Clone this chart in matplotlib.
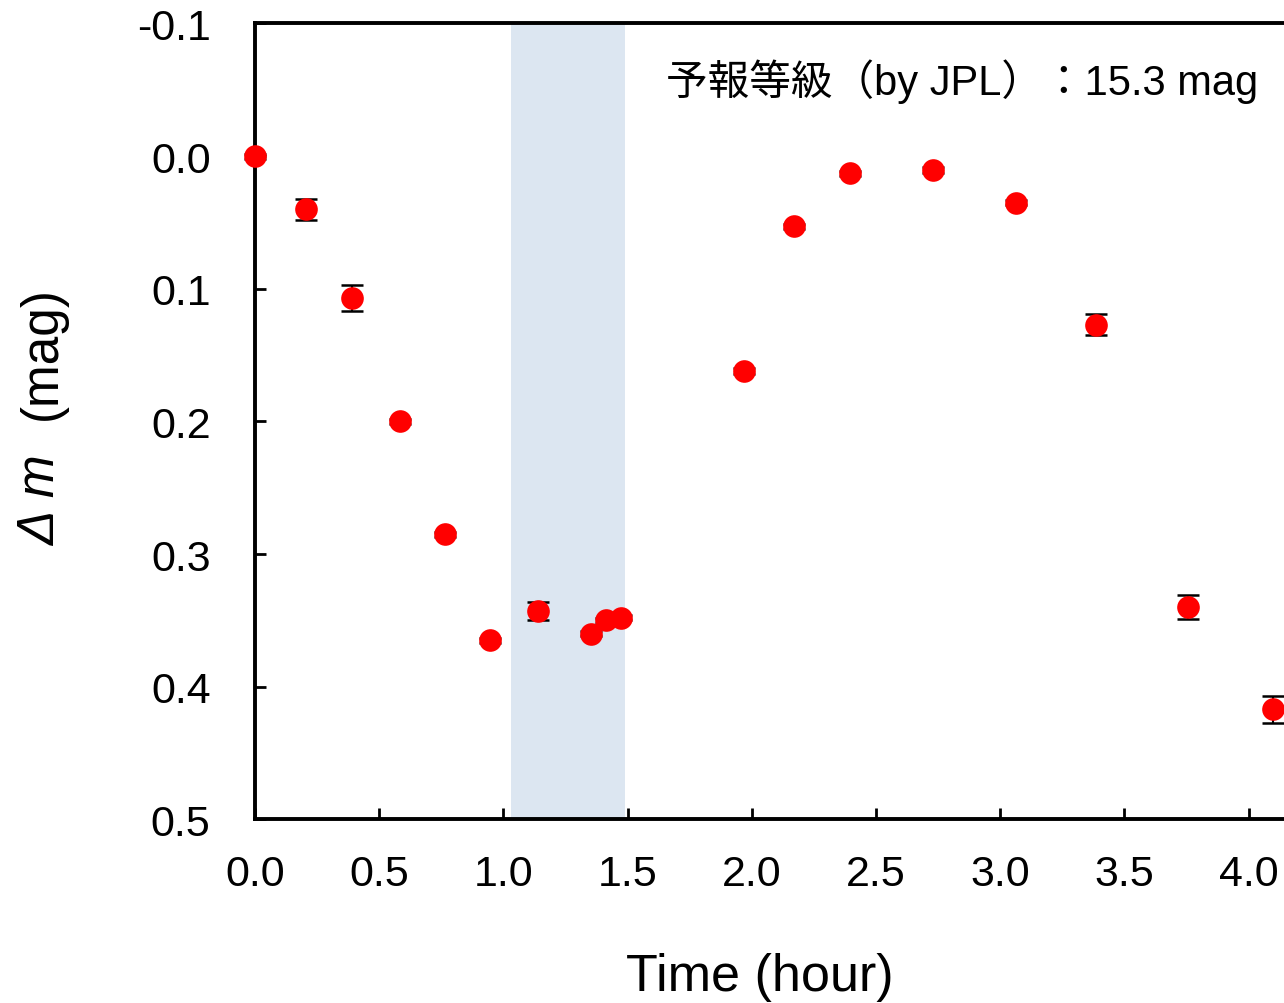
import matplotlib
matplotlib.use('Agg')
import matplotlib.pyplot as plt
import numpy as np

plt.rcParams['font.family'] = ['Liberation Sans', 'Noto Sans CJK JP', 'DejaVu Sans']
plt.rcParams['axes.unicode_minus'] = False

# --- data ---
time_hr = [0.0, 0.205, 0.39, 0.584, 0.765, 0.946, 1.139, 1.353, 1.413, 1.473,
           1.969, 2.170, 2.395, 2.729, 3.064, 3.386, 3.756, 4.10]
dmag = [0.0, 0.040, 0.107, 0.200, 0.285, 0.365, 0.343, 0.360, 0.350, 0.348,
        0.162, 0.053, 0.013, 0.0105, 0.035, 0.127, 0.340, 0.417]
dmag_err = [0.002, 0.008, 0.010, 0.002, 0.002, 0.002, 0.007, 0.002, 0.002, 0.002,
            0.002, 0.002, 0.002, 0.002, 0.002, 0.008, 0.009, 0.010]
shade_span = (1.032, 1.49)
xticks = [0.0, 0.5, 1.0, 1.5, 2.0, 2.5, 3.0, 3.5, 4.0]
yticks = [-0.1, 0.0, 0.1, 0.2, 0.3, 0.4, 0.5]

fig = plt.figure(figsize=(12.84, 10.04), dpi=100)
ax = fig.add_axes([0.1986, 0.1828, 0.8706 * 4.3 / 4.5, 0.7928])

ax.axvspan(*shade_span, color='#dce6f1', lw=0, zorder=0)
eb = ax.errorbar(time_hr, dmag, yerr=dmag_err, fmt='none', ecolor='black',
                 elinewidth=1.5, capsize=8, capthick=1.8, zorder=3, clip_on=False)
for art in eb.lines[1]:
    art.set_zorder(3)
ax.plot(time_hr, dmag, 'o', color='red', ms=16.3, mec='none', zorder=5, clip_on=False)

ax.set_xlim(0, 4.3)
ax.set_ylim(0.5, -0.1)
ax.set_xticks(xticks)
ax.set_yticks(yticks)
ax.set_xticklabels(['%.1f' % v for v in xticks])
ax.set_yticklabels(['%.1f' % v for v in yticks])
ax.tick_params(direction='in', length=8, width=2, labelsize=31)
ax.tick_params(axis='x', pad=25)
ax.tick_params(axis='y', pad=32)
ax.spines['right'].set_visible(False)
for s in ['left', 'bottom', 'top']:
    ax.spines[s].set_linewidth(2.8)

fig.text(760 / 1284, 1 - 978 / 1004, 'Time (hour)', fontsize=37.5, ha='center', va='center')
# y label: italic "Δ m" followed by upright "(mag)"
fig.text(42 / 1284, 1 - 545 / 1004, 'Δ m', fontsize=37, style='italic', rotation=90,
         rotation_mode='anchor', ha='left', va='center')
fig.text(42 / 1284, 1 - 420 / 1004, '(mag)', fontsize=37, rotation=90,
         rotation_mode='anchor', ha='left', va='center')

ax.text(1258 / 1284, 1 - 82 / 1004, '予報等級（by JPL）：15.3 mag', transform=fig.transFigure,
        fontsize=30, ha='right', va='center',
        family=['Liberation Sans', 'Noto Sans CJK JP'])

plt.savefig('out.png', dpi=100)
